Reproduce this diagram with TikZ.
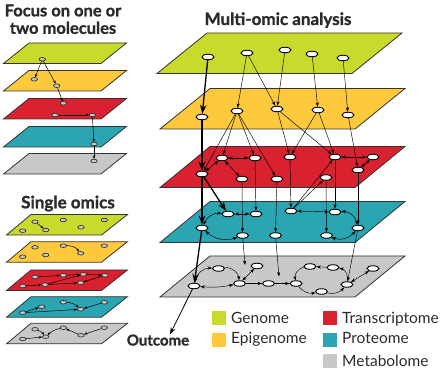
\documentclass[tikz,border=0pt]{standalone}
\usepackage{fontspec}
\setmainfont{Lato}
\newfontfamily\headfont[BoldFeatures={FakeBold=1.2}]{Lato}
\usetikzlibrary{arrows.meta,shapes.geometric}
\definecolor{cgen}{HTML}{C8DA2B}
\definecolor{cepi}{HTML}{FEC93C}
\definecolor{ctra}{HTML}{DA2130}
\definecolor{cpro}{HTML}{2AA5B1}
\definecolor{cmet}{HTML}{C8C8C9}
\definecolor{ink}{HTML}{2B2B2B}
\begin{document}
\begin{tikzpicture}[x=1pt,y=-1pt,
  plane/.style={draw=black!80,line width=0.8pt,line join=miter},
  mn/.style={ellipse,draw=black,fill=white,line width=0.9pt,minimum width=12pt,minimum height=5.5pt,inner sep=0pt},
  sn/.style={ellipse,draw=black!85,fill=gray!45,line width=0.6pt,minimum width=6.5pt,minimum height=3.6pt,inner sep=0pt},
  ar/.style={-{Stealth[length=4.5pt,width=3.2pt]},line width=0.45pt},
  dar/.style={{Stealth[length=4.5pt,width=3.2pt]}-{Stealth[length=4.5pt,width=3.2pt]},line width=0.45pt},
  tar/.style={-{Stealth[length=9pt,width=6.5pt]},line width=1.3pt},
  sar/.style={-{Stealth[length=3.2pt,width=2.6pt]},line width=0.5pt},
  head/.style={font=\headfont\bfseries\fontsize{17}{15}\selectfont,text=ink,anchor=base,inner sep=0pt},
  leg/.style={font=\fontsize{15.5}{15.5}\selectfont,text=ink,anchor=base west,inner sep=0pt}]
\useasboundingbox (0,0) rectangle (445,374);

% ---------- main planes ----------
\filldraw[plane,fill=cgen] (207,33) -- (402,33) -- (352,73.5) -- (157,73.5) -- cycle;
\filldraw[plane,fill=cepi] (210,88.5) -- (405,88.5) -- (355,129) -- (160,129) -- cycle;
\filldraw[plane,fill=ctra] (210,146.5) -- (405,146.5) -- (355,187.5) -- (160,187.5) -- cycle;
\filldraw[plane,fill=cpro] (210,201.5) -- (405,201.5) -- (355,242.5) -- (160,242.5) -- cycle;
\filldraw[plane,fill=cmet] (210,256) -- (405,256) -- (355,297) -- (160,297) -- cycle;

% ---------- left planes: focus ----------
\foreach \t/\c in {43/cgen,70.5/cepi,98.5/ctra,126.5/cpro,153.5/cmet}
  \filldraw[plane,fill=\c] (29,\t) -- (126.5,\t) -- (101,\t+20.5) -- (3.5,\t+20.5) -- cycle;
% ---------- left planes: single omics ----------
\foreach \t/\c in {214.5/cgen,241.7/cepi,270/ctra,296.7/cpro,323.3/cmet}
  \filldraw[plane,fill=\c] (31,\t) -- (127.5,\t) -- (101.5,\t+20.5) -- (6.5,\t+20.5) -- cycle;

% ---------- titles ----------
\node[head,align=center,anchor=north,font=\headfont\bfseries\fontsize{16.5}{17.5}\selectfont] (h1) at (63,4.2) {Focus on one or\\two molecules};
\node[head] (h3) at (68,208.3) {Single omics};
\node[head] (h4) at (278,25) {Multi-omic analysis};
\node[head,font=\headfont\bfseries\fontsize{15}{15}\selectfont] (out) at (158,345.5) {Outcome};

% ---------- main nodes ----------
\foreach \n/\x/\y in {G1/208/57,G2/247/53,G3/285/50,G4/312/54,G5/343/58,
  E1/202/117,E2/237/111,E3/277/109,E4/318/110,E5/348/115,
  T1/222/158,T2/255/158,T3/290/157,T4/335/157,T5/373/157,T6/202/174,T7/242/179,T8/277/179,T9/326/177.5,T10/358/170,
  P1/228/214,P2/256/214,P3/291/211,P4/335/212,P5/202/228,P6/242.5/235.5,P7/275.5/235.5,P8/326.5/235.5,P9/358/228,
  M1/194/286,M2/218.5/268.5,M3/257/266,M4/239.5/283.5,M5/268.5/283.5,M6/296/283.5,M7/310/266.5,M8/333/267.5,M9/321.5/291.5,M10/347/284.5,M11/373/268.5}
  \path (\x,\y) coordinate (c\n);
\coordinate (p6end) at (245,265);
\coordinate (p7end) at (279,276.5);

% invisible copies of the nodes, so that edges end on their borders
\foreach \n in {G1,G2,G3,G4,G5,E1,E2,E3,E4,E5,T1,T2,T3,T4,T5,T6,T7,T8,T9,T10,P1,P2,P3,P4,P5,P6,P7,P8,P9,M1,M2,M3,M4,M5,M6,M7,M8,M9,M10,M11}
  \node[mn,draw=none,fill=none] (\n) at (c\n) {};

% ---------- main edges ----------
\draw[tar] (G1) -- (E1);
\draw[ar] (G2) -- (E2);
\draw[ar] (G2) -- (E3);
\draw[ar] (G3) -- (E3);
\draw[ar] (G4) -- (E4);
\draw[ar] (G5) -- (E5);
\draw[tar] (E1) -- (T6);
\draw[ar] (E2) -- (T6);
\draw[ar] (E2) -- (T1);
\draw[ar] (E2) -- (T2);
\draw[ar] (E2) -- (T8);
\draw[ar] (E3) -- (T3);
\draw[ar] (E3) -- (T4);
\draw[ar] (E4) -- (T3);
\draw[ar] (E4) -- (T4);
\draw[ar] (E5) -- (T10);
\draw[dar] (T1) -- (T2);
\draw[dar] (T1) -- (T6);
\draw[dar] (T1) -- (T7);
\draw[dar] (T4) -- (T5);
\draw[dar] (T5) -- (T10);
\draw[tar] (T6) -- (P5);
\draw[tar] (T6) -- (P1);
\draw[ar] (T2) -- (P2);
\draw[ar] (T7) -- (P6);
\draw[ar] (T8) -- (P7);
\draw[ar] (T3) -- (P3);
\draw[ar] (T9) -- (P8);
\draw[ar] (T4) -- (P4);
\draw[ar] (T10) -- (P9);
\draw[ar] (P3) -- (T9);
\draw[ar] (P3) -- (T4);
\draw[dar] (P1) -- (P2);
\draw[dar] (P1) to[bend right=35] (P5);
\draw[dar] (P5) to[bend right=30] (P6);
\draw[dar] (P3) -- (P4);
\draw[dar] (P4) to[bend left=40] (P9);
\draw[dar] (P8) to[bend right=35] (P9);
\draw[tar] (P5) -- (M1);
\draw[ar] (P6) -- (p6end);
\draw[ar] (P7) -- (p7end);
\draw[ar] (P9) -- (M10);
\draw[dar] (M1) to[bend left=40] (M2);
\draw[dar] (M1) to[bend right=8] (M4);
\draw[ar] (M2) to[bend left=45] (M4);
\draw[dar] (M4) -- (M3);
\draw[ar] (M4) -- (M5);
\draw[ar] (M5) -- (M6);
\draw[ar] (M6) to[bend right=30] (M9);
\draw[ar] (M9) to[bend right=30] (M10);
\draw[ar] (M10) to[bend right=45] (M8);
\draw[ar] (M8) -- (M7);
\draw[ar] (M7) to[bend right=45] (M6);
\draw[dar] (M10) -- (M11);
\draw[-{Stealth[length=7pt,width=5pt]},line width=0.8pt] (M1) -- ([xshift=12pt]out.north);

% visible main nodes
\foreach \n in {G1,G2,G3,G4,G5,E1,E2,E3,E4,E5,T1,T2,T3,T4,T5,T6,T7,T8,T9,T10,P1,P2,P3,P4,P5,P6,P7,P8,P9,M1,M2,M3,M4,M5,M6,M7,M8,M9,M10,M11}
  \node[mn] (v\n) at (c\n) {};

% ---------- focus nodes ----------
\node[sn] (N1) at (42.3,59.3) {};
\node[sn] (N2) at (34.3,79.3) {};
\node[sn] (N3) at (56.7,85.7) {};
\node[sn] (N4) at (63.3,103.3) {};
\node[sn] (N5) at (55,115) {};
\node[sn] (N6) at (92.3,115) {};
\node[sn] (N7) at (94,144) {};
\node[sn] (N8) at (94,161) {};
\draw[sar] (N1) -- (N2);
\draw[sar] (N1) -- (N3);
\draw[sar] (N3) -- (N4);
\draw[sar] (N5) -- (N6);
\draw[sar] (N6) -- (N7);
\draw[sar] (N7) -- (N8);

% ---------- single omics nodes ----------
\foreach \n/\x/\y in {a1/35/221.7,a2/45.7/230,a3/63.3/220,a4/104.3/220,a5/81/227.3,a6/22.7/230.7,
  b1/35/247.3,b2/63.3/245.7,b3/80.7/253.3,b4/104.3/245.7,b5/22.7/256.7,b6/45.7/255,
  r1/35/277,r2/63.3/275.3,r3/83.3/274.3,r4/105/275.3,r5/22.7/286,r6/45/284.7,r7/80.7/282.7,
  t1/22.7/312.7,t2/41.7/306.7,t3/63.3/302.2,t4/80.7/309.3,t5/104.3/302.3,
  g1/35/329.3,g2/45.7/336.7,g3/63.3/327.7,g4/81/335.3,g5/104.3/327.7,g6/22.7/339}
  \node[sn] (\n) at (\x,\y) {};
\draw[sar] (a1) -- (a2);
\draw[sar] (b2) to[bend left=25] (b3);
\draw[sar] (r1) -- (r2);
\draw[sar] (r2) -- (r3);
\draw[sar] (r3) -- (r4);
\draw[sar] (r4) -- (r7);
\draw[sar] (r5) -- (r6);
\draw[sar] (r6) -- (r3);
\draw[sar] (r6) -- (r7);
\draw[sar] (t1) -- (t2);
\draw[sar] (t1) -- (t4);
\draw[sar] (t3) to[bend left=20] (t4);
\draw[sar] (t5) -- (t4);
\draw[sar] (g6) -- (g2);
\draw[sar] (g1) to[bend left=15] (g2);
\draw[sar] (g3) to[bend right=15] (g2);
\draw[sar] (g4) -- (g3);
\draw[sar] (g5) -- (g4);

% ---------- legend ----------
\fill[cgen] (212,311) rectangle (226,325);
\fill[cepi] (212,333) rectangle (226,347);
\fill[ctra] (323,311) rectangle (337,325);
\fill[cpro] (323,333) rectangle (337,347);
\fill[cmet] (323,354.5) rectangle (337,368.5);
\node[leg] (l1) at (231,324) {Genome};
\node[leg] (l2) at (231,343.5) {Epigenome};
\node[leg] (l3) at (342,324) {Transcriptome};
\node[leg] (l4) at (342,343.5) {Proteome};
\node[leg] (l5) at (342,366.5) {Metabolome};
\end{tikzpicture}
\end{document}
